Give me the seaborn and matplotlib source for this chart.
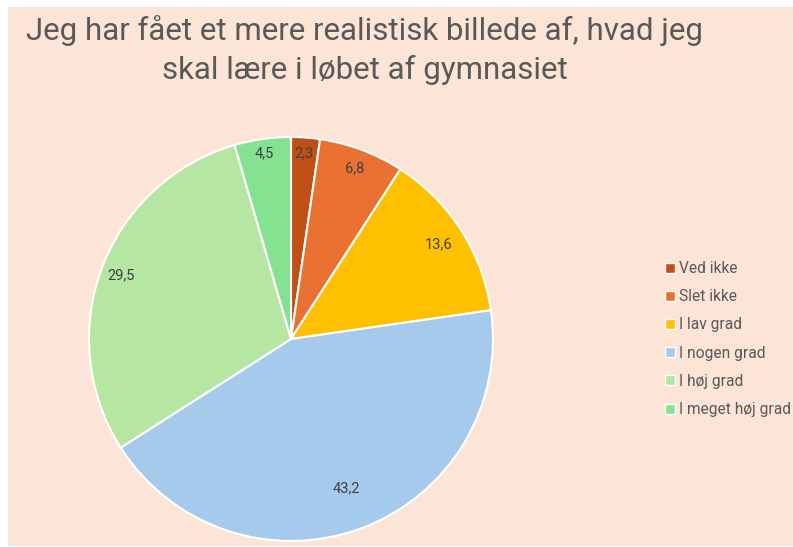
import matplotlib
matplotlib.use("Agg")
import matplotlib.pyplot as plt
from matplotlib.lines import Line2D
from matplotlib.patches import Rectangle
import seaborn as sns
import numpy as np

categories = ["Ved ikke", "Slet ikke", "I lav grad", "I nogen grad", "I høj grad", "I meget høj grad"]
values = [2.3, 6.8, 13.6, 43.2, 29.5, 4.5]
colors = ["#C04F15", "#E97132", "#FFC000", "#A6CAEC", "#B5E6A2", "#84E291"]
label_dist = [0.92, 0.90, 0.87, 0.79, 0.90, 0.93]
title = "Jeg har fået et mere realistisk billede af, hvad jeg\nskal lære i løbet af gymnasiet"

sns.set_theme(style="white")
plt.rcParams['font.family'] = ['Roboto', 'DejaVu Sans']
palette = sns.color_palette(colors)

fig = plt.figure(figsize=(7.93, 5.47), dpi=100)
fig.patch.set_facecolor("white")
bg = Rectangle((8/793, 1/547), 1 - 8/793, (540 - 1)/547, transform=fig.transFigure,
               facecolor="#FCE4D6", edgecolor="none", zorder=-10)
fig.patches.append(bg)

ax = fig.add_axes([89/793, 6/547, 404/793, 404/547], zorder=1)
ax.set_facecolor("none")
wedges, _ = ax.pie(values, colors=palette, startangle=90, counterclock=False,
                   wedgeprops=dict(edgecolor="white", linewidth=1.5), radius=1)
for w, v, d in zip(wedges, values, label_dist):
    ang = np.deg2rad((w.theta1 + w.theta2) / 2)
    ax.text(d * np.cos(ang), d * np.sin(ang), f"{v:.1f}".replace(".", ","),
            ha="center", va="center", fontsize=10.5, color="#404040")
ax.set_xlim(-1.0, 1.0)
ax.set_ylim(-1.0, 1.0)
ax.set_aspect("equal")
ax.axis("off")

fig.text(365/793, 1 - 50/547, title, ha="center", va="center", fontsize=22.5,
         color="#595959", linespacing=1.35)

handles = [Line2D([0], [0], marker="s", linestyle="none", markersize=7,
                  markerfacecolor=c, markeredgecolor="white", markeredgewidth=1)
           for c in palette]
leg = fig.legend(handles, categories, loc="upper left", bbox_to_anchor=(665/793, 1 - 261/547),
                 frameon=False, handlelength=0.6, handletextpad=0.3, labelspacing=0.85,
                 prop=dict(size=11.2), borderaxespad=0, borderpad=0)
for t in leg.get_texts():
    t.set_color("#595959")

fig.savefig("out.png", dpi=100, facecolor=fig.get_facecolor())
